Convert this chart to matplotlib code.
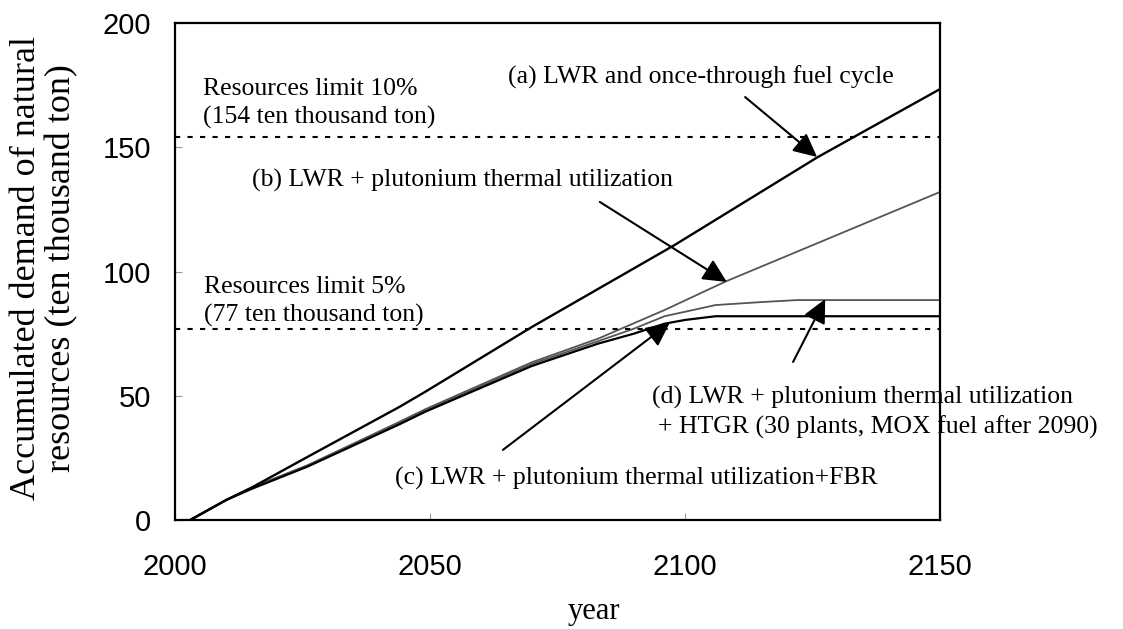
import matplotlib
matplotlib.use('Agg')
import matplotlib.pyplot as plt

# accumulated natural uranium demand (ten thousand ton)
years_a = [2003, 2010, 2015, 2026, 2044, 2049, 2070, 2098, 2126, 2150]
demand_a = [0, 8, 13, 25.4, 45.5, 51.5, 77.7, 110.7, 146, 173.4]

years_b = [2003, 2010, 2015, 2026, 2044, 2049, 2070, 2083, 2096, 2108, 2115, 2150]
demand_b = [0, 8, 13, 22, 39.5, 44.5, 63.5, 73, 84.5, 96, 102, 132]

years_c = [2003, 2010, 2015, 2026, 2044, 2049, 2070, 2083, 2090, 2096, 2100, 2106, 2150]
demand_c = [0, 8, 12.5, 21.5, 38.5, 43.5, 62, 71, 75, 79, 80.5, 82, 82]

years_d = [2003, 2010, 2015, 2026, 2044, 2049, 2070, 2083, 2090, 2096, 2106, 2115, 2122, 2150]
demand_d = [0, 8, 13, 22, 39, 44, 62.8, 72, 77, 82, 86.5, 87.7, 88.5, 88.5]

limit_10 = 154
limit_5 = 77

xticks = [2000, 2050, 2100, 2150]
yticks = [0, 50, 100, 150, 200]

serif = 'Liberation Serif'
sans = 'Liberation Sans'

fig = plt.figure(figsize=(11.23, 6.29), dpi=100)
ax = fig.add_axes([0.1558, 0.1733, 0.6812, 0.7901])

ax.plot(years_b, demand_b, color='#555555', lw=1.3)
ax.plot(years_d, demand_d, color='#555555', lw=1.3)
ax.plot(years_c, demand_c, color='black', lw=1.6)
ax.plot(years_a, demand_a, color='black', lw=1.7)

ax.axhline(limit_10, color='black', lw=1.5, ls=(0, (2.5, 3.5)))
ax.axhline(limit_5, color='black', lw=1.5, ls=(0, (2.5, 3.5)))

ax.set_xlim(2000, 2150)
ax.set_ylim(0, 200)
ax.set_xticks(xticks)
ax.set_yticks(yticks)
ax.tick_params(direction='in', length=5, width=0.8, color='#999999', labelsize=21)
ax.tick_params(axis='x', pad=24)
ax.tick_params(axis='y', pad=17)
for lab in ax.get_xticklabels() + ax.get_yticklabels():
    lab.set_fontfamily(sans)
for sp in ax.spines.values():
    sp.set_linewidth(1.6)

fs = 18.5
ax.text(2005.5, 173.4, 'Resources limit 10%', family=serif, fontsize=fs, va='center')
ax.text(2005.5, 161.8, '(154 ten thousand ton)', family=serif, fontsize=fs, va='center')
ax.text(2005.7, 93.8, 'Resources limit 5%', family=serif, fontsize=fs, va='center')
ax.text(2005.7, 82.5, '(77 ten thousand ton)', family=serif, fontsize=fs, va='center')
ax.text(2065.3, 178.3, '(a) LWR and once-through fuel cycle', family=serif, fontsize=fs, va='center')
ax.text(2015.1, 136.8, '(b) LWR + plutonium thermal utilization', family=serif, fontsize=fs, va='center')
ax.text(2043.1, 16.6, '(c) LWR + plutonium thermal utilization+FBR', family=serif, fontsize=fs, va='center')
ax.text(2093.5, 49.5, '(d) LWR + plutonium thermal utilization', family=serif, fontsize=fs, va='center')
ax.text(2094.7, 37.4, '+ HTGR (30 plants, MOX fuel after 2090)', family=serif, fontsize=fs,
        va='center', clip_on=False)

arrow = dict(arrowstyle='-|>,head_length=0.45,head_width=0.22', mutation_scale=32,
             lw=1.5, color='black', shrinkA=0, shrinkB=0)
ax.annotate('', xy=(2125.9, 146.1), xytext=(2111.8, 170.2), arrowprops=arrow)
ax.annotate('', xy=(2108.2, 95.8), xytext=(2083.3, 128), arrowprops=arrow)
ax.annotate('', xy=(2097, 79.3), xytext=(2064.3, 28.2), arrowprops=arrow)
ax.annotate('', xy=(2127.5, 88.9), xytext=(2121.2, 63.6), arrowprops=arrow)

fig.text(594 / 1123, 1 - 611 / 629, 'year', family=serif, fontsize=22, ha='center', va='center')
fig.text(44 / 1123, 1 - 268 / 629, 'Accumulated demand of natural\nresources (ten thousand ton)',
         family=serif, fontsize=26, rotation=90, ha='center', va='center',
         multialignment='center', linespacing=1.1)

fig.savefig('out.png', dpi=100)
